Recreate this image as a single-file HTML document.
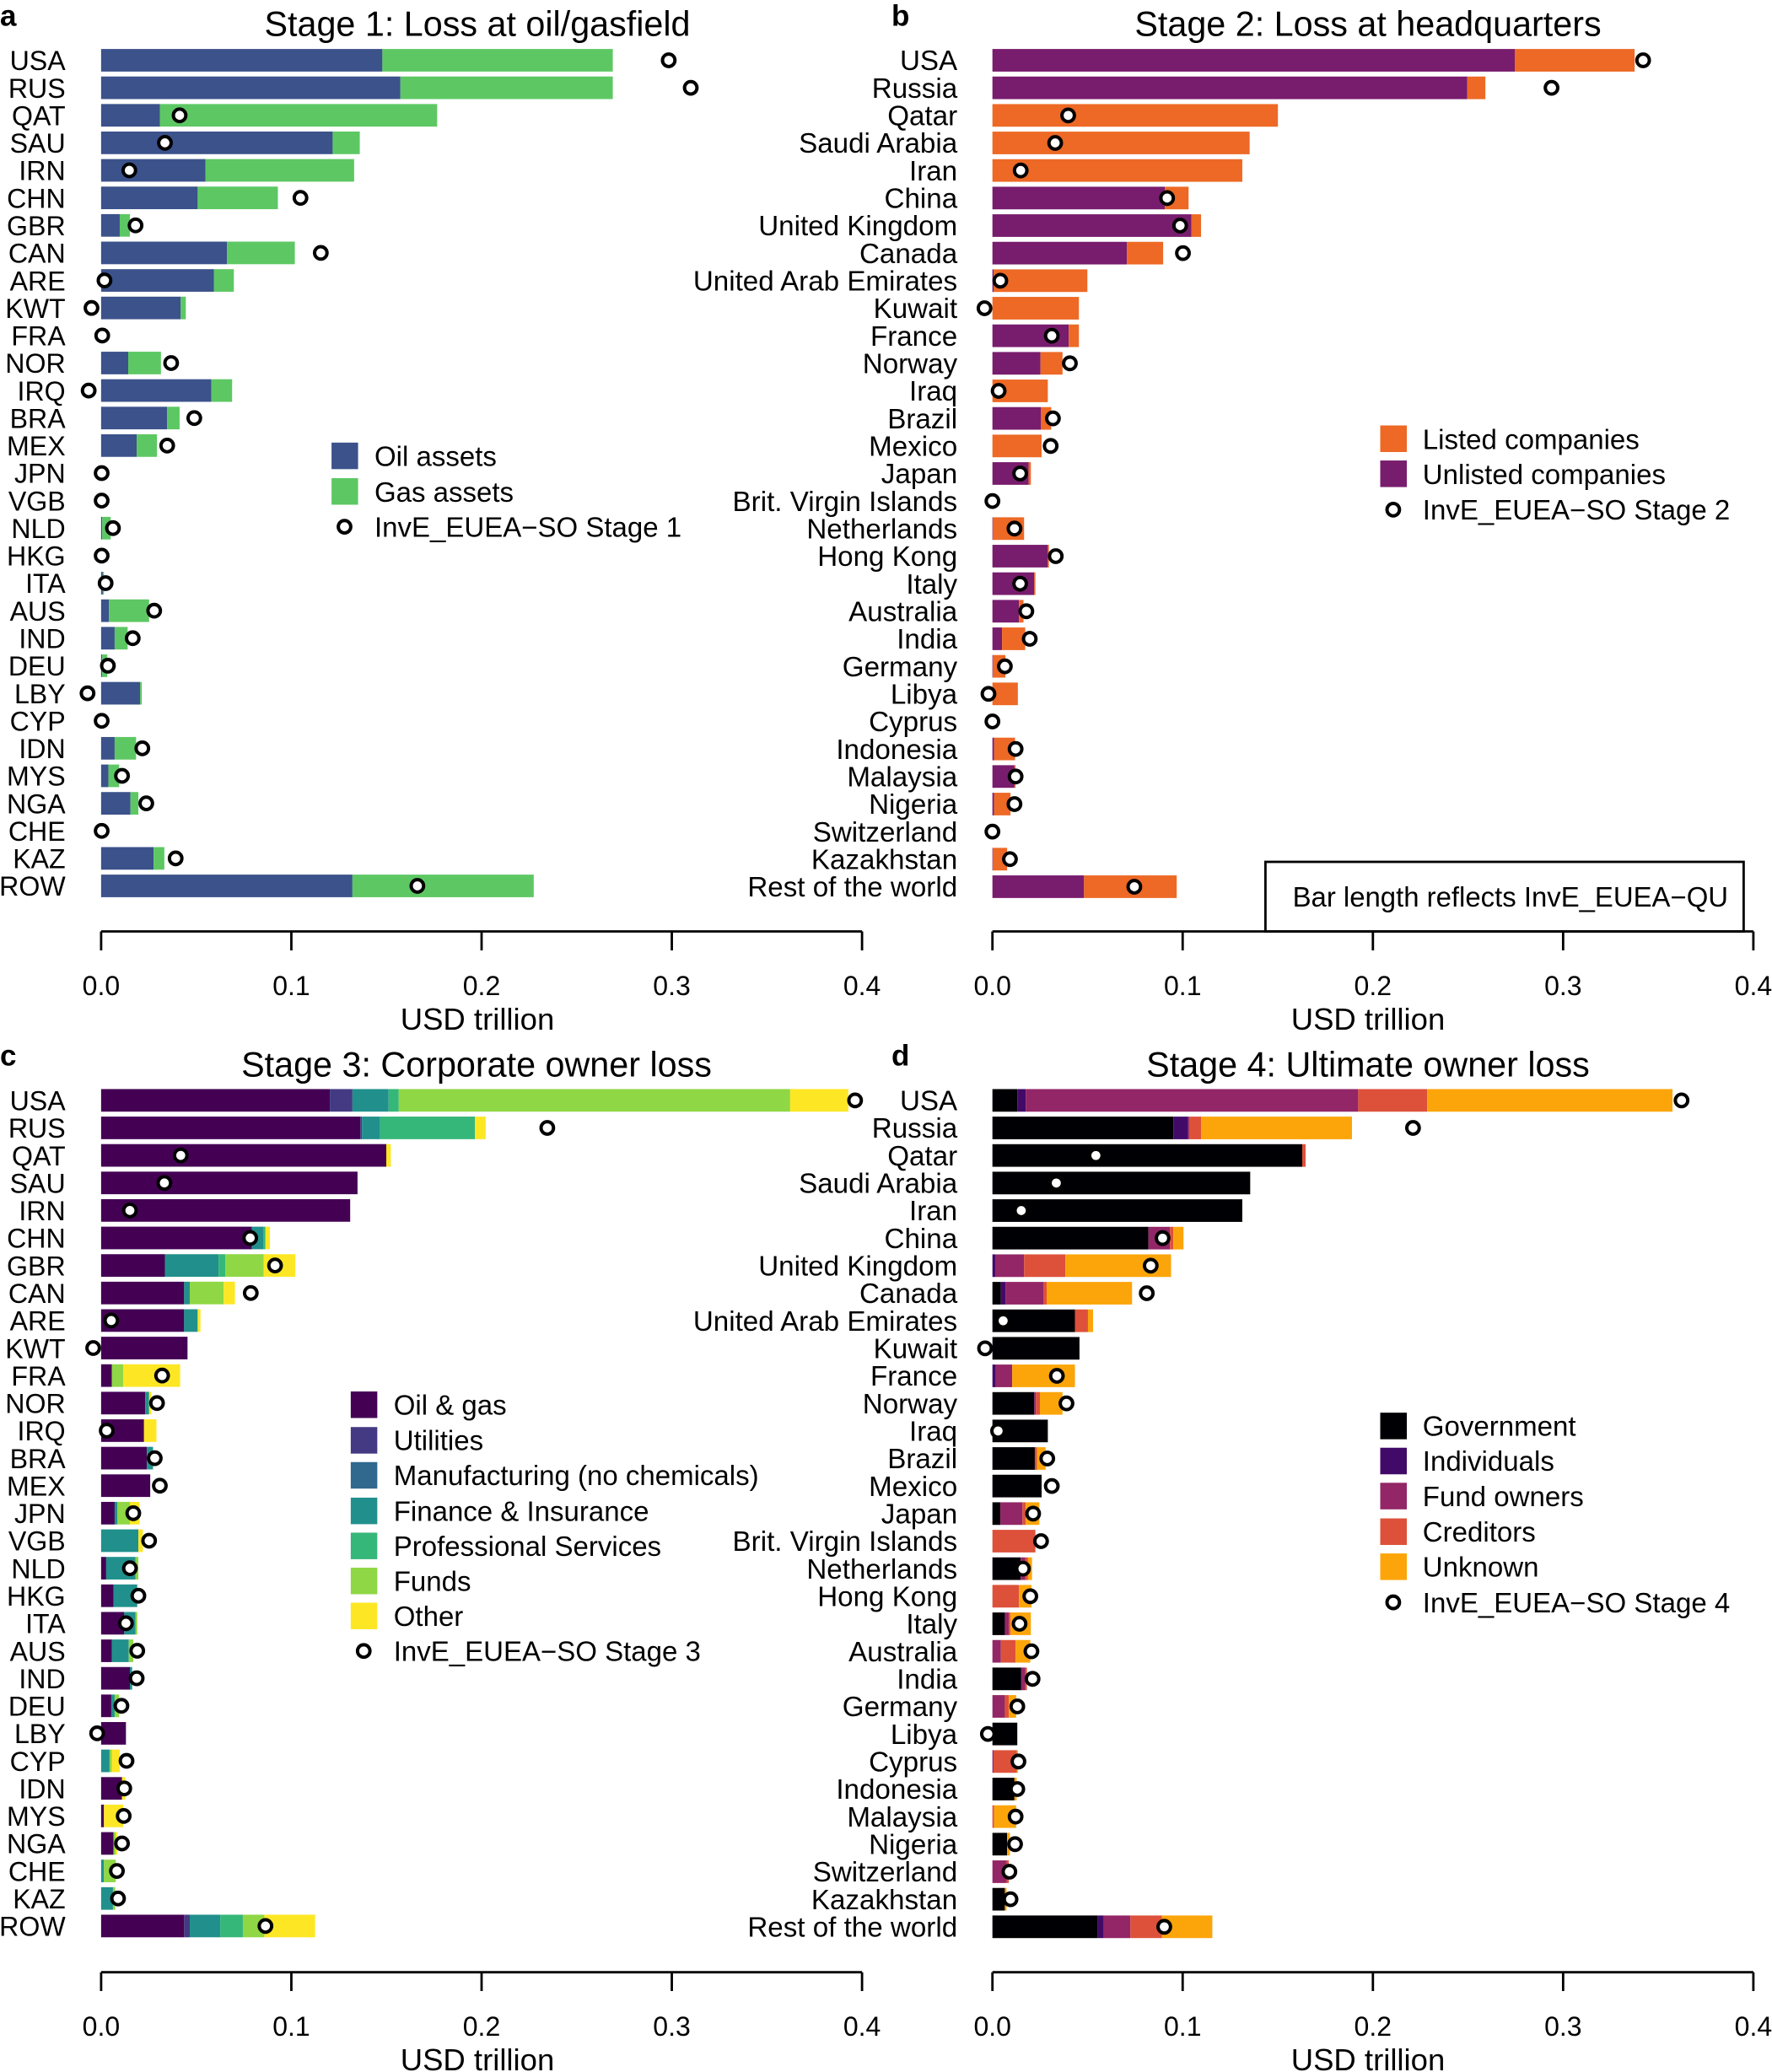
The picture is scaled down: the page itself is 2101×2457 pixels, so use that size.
<!DOCTYPE html>
<html><head><meta charset="utf-8"><style>
html,body{margin:0;padding:0;background:#fff;}
svg{display:block;font-family:"Liberation Sans",Arial,sans-serif;}
.oa{fill:#3B528B}.ga{fill:#5DC863}
.pu{fill:#781C6D}.or{fill:#ED6925}
.c1{fill:#440154}.c2{fill:#443A83}.c3{fill:#31688E}.c4{fill:#21908C}.c5{fill:#35B779}.c6{fill:#8FD744}.c7{fill:#FDE725}
.d1{fill:#000004}.d2{fill:#420A68}.d3{fill:#932667}.d4{fill:#DD513A}.d5{fill:#FCA50A}
.m{fill:#fff;stroke:#000;stroke-width:6}
.ax{stroke:#000;stroke-width:2.8;fill:none}
.lg{font-size:49.3px}
</style></head><body>
<svg width="2101" height="2457" viewBox="0 0 2101 2457" xmlns="http://www.w3.org/2000/svg">
<rect width="2101" height="2457" fill="#fff"/>

<text x="0" y="30.6" font-size="35" font-weight="bold">a</text>
<text x="1057" y="30.6" font-size="35" font-weight="bold">b</text>
<text x="0" y="1263.5" font-size="35" font-weight="bold">c</text>
<text x="1057" y="1263.5" font-size="35" font-weight="bold">d</text>
<text x="566" y="42.5" font-size="41.3" text-anchor="middle">Stage 1: Loss at oil/gasfield</text>
<text x="1622" y="42.5" font-size="41.3" text-anchor="middle">Stage 2: Loss at headquarters</text>
<text x="565" y="1276.5" font-size="41.3" text-anchor="middle">Stage 3: Corporate owner loss</text>
<text x="1622" y="1276.5" font-size="41.3" text-anchor="middle">Stage 4: Ultimate owner loss</text>

<path class="ax" d="M119.9 1104.5H1022.1M119.9 1104.5V1127M345.45 1104.5V1127M571 1104.5V1127M796.55 1104.5V1127M1022.1 1104.5V1127"/>
<g font-size="32" text-anchor="middle">
<text x="119.9" y="1180">0.0</text><text x="345.45" y="1180">0.1</text><text x="571" y="1180">0.2</text><text x="796.55" y="1180">0.3</text><text x="1022.1" y="1180">0.4</text>
</g>
<text x="566" y="1221" font-size="36.5" text-anchor="middle">USD trillion</text>

<path class="ax" d="M1176.7 1104.5H2078.9M1176.7 1104.5V1127M1402.25 1104.5V1127M1627.8 1104.5V1127M1853.35 1104.5V1127M2078.9 1104.5V1127"/>
<g font-size="32" text-anchor="middle">
<text x="1176.7" y="1180">0.0</text><text x="1402.25" y="1180">0.1</text><text x="1627.8" y="1180">0.2</text><text x="1853.35" y="1180">0.3</text><text x="2078.9" y="1180">0.4</text>
</g>
<text x="1622" y="1221" font-size="36.5" text-anchor="middle">USD trillion</text>
<rect x="1500.4" y="1022" width="567" height="82.5" fill="none" stroke="#000" stroke-width="2.8"/>
<text x="1532.6" y="1075" font-size="32.9">Bar length reflects InvE_EUEA−QU</text>

<path class="ax" d="M119.9 2338.7H1022.1M119.9 2338.7V2361M345.45 2338.7V2361M571 2338.7V2361M796.55 2338.7V2361M1022.1 2338.7V2361"/>
<g font-size="32" text-anchor="middle">
<text x="119.9" y="2414">0.0</text><text x="345.45" y="2414">0.1</text><text x="571" y="2414">0.2</text><text x="796.55" y="2414">0.3</text><text x="1022.1" y="2414">0.4</text>
</g>
<text x="566" y="2455" font-size="36.5" text-anchor="middle">USD trillion</text>

<path class="ax" d="M1176.7 2338.7H2078.9M1176.7 2338.7V2361M1402.25 2338.7V2361M1627.8 2338.7V2361M1853.35 2338.7V2361M2078.9 2338.7V2361"/>
<g font-size="32" text-anchor="middle">
<text x="1176.7" y="2414">0.0</text><text x="1402.25" y="2414">0.1</text><text x="1627.8" y="2414">0.2</text><text x="1853.35" y="2414">0.3</text><text x="2078.9" y="2414">0.4</text>
</g>
<text x="1622" y="2455" font-size="36.5" text-anchor="middle">USD trillion</text>

<!-- ================= PANEL A ================= -->
<g transform="translate(0,40) scale(0.66966)" font-size="48">
<g text-anchor="end">
<text x="116" y="64.5">USA</text><text x="116" y="113.2">RUS</text><text x="116" y="162">QAT</text><text x="116" y="210.7">SAU</text><text x="116" y="259.4">IRN</text><text x="116" y="308.2">CHN</text><text x="116" y="356.9">GBR</text><text x="116" y="405.6">CAN</text><text x="116" y="454.4">ARE</text><text x="116" y="503.1">KWT</text><text x="116" y="551.8">FRA</text><text x="116" y="600.6">NOR</text><text x="116" y="649.3">IRQ</text><text x="116" y="698">BRA</text><text x="116" y="746.8">MEX</text><text x="116" y="795.5">JPN</text><text x="116" y="844.2">VGB</text><text x="116" y="893">NLD</text><text x="116" y="941.7">HKG</text><text x="116" y="990.4">ITA</text><text x="116" y="1039.2">AUS</text><text x="116" y="1087.9">IND</text><text x="116" y="1136.6">DEU</text><text x="116" y="1185.4">LBY</text><text x="116" y="1234.1">CYP</text><text x="116" y="1282.8">IDN</text><text x="116" y="1331.6">MYS</text><text x="116" y="1380.3">NGA</text><text x="116" y="1429">CHE</text><text x="116" y="1477.8">KAZ</text><text x="116" y="1526.5">ROW</text>
</g>
<g transform="translate(0,47)"><rect class="oa" x="179" y="-20" width="498" height="40"/><rect class="ga" x="677" y="-20" width="408" height="40"/><circle class="m" cx="1184" cy="0" r="11"/></g>
<g transform="translate(0,95.73)"><rect class="oa" x="179" y="-20" width="530" height="40"/><rect class="ga" x="709" y="-20" width="376" height="40"/><circle class="m" cx="1223" cy="0" r="11"/></g>
<g transform="translate(0,144.47)"><rect class="oa" x="179" y="-20" width="104" height="40"/><rect class="ga" x="283" y="-20" width="491" height="40"/><circle class="m" cx="318" cy="0" r="11"/></g>
<g transform="translate(0,193.2)"><rect class="oa" x="179" y="-20" width="410" height="40"/><rect class="ga" x="589" y="-20" width="48" height="40"/><circle class="m" cx="292" cy="0" r="11"/></g>
<g transform="translate(0,241.93)"><rect class="oa" x="179" y="-20" width="185" height="40"/><rect class="ga" x="364" y="-20" width="263" height="40"/><circle class="m" cx="229" cy="0" r="11"/></g>
<g transform="translate(0,290.67)"><rect class="oa" x="179" y="-20" width="171" height="40"/><rect class="ga" x="350" y="-20" width="142" height="40"/><circle class="m" cx="532" cy="0" r="11"/></g>
<g transform="translate(0,339.4)"><rect class="oa" x="179" y="-20" width="33" height="40"/><rect class="ga" x="212" y="-20" width="18" height="40"/><circle class="m" cx="240" cy="0" r="11"/></g>
<g transform="translate(0,388.13)"><rect class="oa" x="179" y="-20" width="223" height="40"/><rect class="ga" x="402" y="-20" width="120" height="40"/><circle class="m" cx="568" cy="0" r="11"/></g>
<g transform="translate(0,436.87)"><rect class="oa" x="179" y="-20" width="200" height="40"/><rect class="ga" x="379" y="-20" width="35" height="40"/><circle class="m" cx="185" cy="0" r="11"/></g>
<g transform="translate(0,485.6)"><rect class="oa" x="179" y="-20" width="141" height="40"/><rect class="ga" x="320" y="-20" width="9" height="40"/><circle class="m" cx="162" cy="0" r="11"/></g>
<g transform="translate(0,534.33)"><circle class="m" cx="181" cy="0" r="11"/></g>
<g transform="translate(0,583.07)"><rect class="oa" x="179" y="-20" width="48" height="40"/><rect class="ga" x="227" y="-20" width="58" height="40"/><circle class="m" cx="303" cy="0" r="11"/></g>
<g transform="translate(0,631.8)"><rect class="oa" x="179" y="-20" width="195" height="40"/><rect class="ga" x="374" y="-20" width="37" height="40"/><circle class="m" cx="157" cy="0" r="11"/></g>
<g transform="translate(0,680.53)"><rect class="oa" x="179" y="-20" width="117" height="40"/><rect class="ga" x="296" y="-20" width="22" height="40"/><circle class="m" cx="344" cy="0" r="11"/></g>
<g transform="translate(0,729.27)"><rect class="oa" x="179" y="-20" width="63" height="40"/><rect class="ga" x="242" y="-20" width="36" height="40"/><circle class="m" cx="296" cy="0" r="11"/></g>
<g transform="translate(0,778)"><circle class="m" cx="180" cy="0" r="11"/></g>
<g transform="translate(0,826.73)"><circle class="m" cx="180" cy="0" r="11"/></g>
<g transform="translate(0,875.47)"><rect class="oa" x="179" y="-20" width="2" height="40"/><rect class="ga" x="181" y="-20" width="15" height="40"/><circle class="m" cx="200" cy="0" r="11"/></g>
<g transform="translate(0,924.2)"><circle class="m" cx="180" cy="0" r="11"/></g>
<g transform="translate(0,972.93)"><rect class="oa" x="179" y="-20" width="3" height="40"/><rect class="ga" x="182" y="-20" width="2" height="40"/><circle class="m" cx="187" cy="0" r="11"/></g>
<g transform="translate(0,1021.67)"><rect class="oa" x="179" y="-20" width="14" height="40"/><rect class="ga" x="193" y="-20" width="71" height="40"/><circle class="m" cx="273" cy="0" r="11"/></g>
<g transform="translate(0,1070.4)"><rect class="oa" x="179" y="-20" width="24" height="40"/><rect class="ga" x="203" y="-20" width="23" height="40"/><circle class="m" cx="235" cy="0" r="11"/></g>
<g transform="translate(0,1119.13)"><rect class="oa" x="179" y="-20" width="2" height="40"/><rect class="ga" x="181" y="-20" width="9" height="40"/><circle class="m" cx="191" cy="0" r="11"/></g>
<g transform="translate(0,1167.87)"><rect class="oa" x="179" y="-20" width="69" height="40"/><rect class="ga" x="248" y="-20" width="3" height="40"/><circle class="m" cx="155" cy="0" r="11"/></g>
<g transform="translate(0,1216.6)"><circle class="m" cx="180" cy="0" r="11"/></g>
<g transform="translate(0,1265.33)"><rect class="oa" x="179" y="-20" width="24" height="40"/><rect class="ga" x="203" y="-20" width="38" height="40"/><circle class="m" cx="252" cy="0" r="11"/></g>
<g transform="translate(0,1314.07)"><rect class="oa" x="179" y="-20" width="13" height="40"/><rect class="ga" x="192" y="-20" width="19" height="40"/><circle class="m" cx="216" cy="0" r="11"/></g>
<g transform="translate(0,1362.8)"><rect class="oa" x="179" y="-20" width="52" height="40"/><rect class="ga" x="231" y="-20" width="14" height="40"/><circle class="m" cx="259" cy="0" r="11"/></g>
<g transform="translate(0,1411.53)"><circle class="m" cx="180" cy="0" r="11"/></g>
<g transform="translate(0,1460.27)"><rect class="oa" x="179" y="-20" width="93" height="40"/><rect class="ga" x="272" y="-20" width="19" height="40"/><circle class="m" cx="311" cy="0" r="11"/></g>
<g transform="translate(0,1509)"><rect class="oa" x="179" y="-20" width="445" height="40"/><rect class="ga" x="624" y="-20" width="321" height="40"/><circle class="m" cx="739" cy="0" r="11"/></g>
<rect class="oa" x="587" y="724" width="47" height="47"/>
<rect class="ga" x="587" y="787" width="47" height="47"/>
<circle class="m" cx="610" cy="873" r="11"/>
<g class="lg">
<text x="663" y="765.5">Oil assets</text>
<text x="663" y="828.5">Gas assets</text>
<text x="663" y="890.5">InvE_EUEA−SO Stage 1</text>
</g>
</g>

<!-- ================= PANEL B ================= -->
<g transform="translate(1050,40) scale(0.67028)" font-size="49.5">
<g text-anchor="end">
<text x="127" y="64.5">USA</text><text x="127" y="113.2">Russia</text><text x="127" y="162">Qatar</text><text x="127" y="210.7">Saudi Arabia</text><text x="127" y="259.4">Iran</text><text x="127" y="308.2">China</text><text x="127" y="356.9">United Kingdom</text><text x="127" y="405.6">Canada</text><text x="127" y="454.4">United Arab Emirates</text><text x="127" y="503.1">Kuwait</text><text x="127" y="551.8">France</text><text x="127" y="600.6">Norway</text><text x="127" y="649.3">Iraq</text><text x="127" y="698">Brazil</text><text x="127" y="746.8">Mexico</text><text x="127" y="795.5">Japan</text><text x="127" y="844.2">Brit. Virgin Islands</text><text x="127" y="893">Netherlands</text><text x="127" y="941.7">Hong Kong</text><text x="127" y="990.4">Italy</text><text x="127" y="1039.2">Australia</text><text x="127" y="1087.9">India</text><text x="127" y="1136.6">Germany</text><text x="127" y="1185.4">Libya</text><text x="127" y="1234.1">Cyprus</text><text x="127" y="1282.8">Indonesia</text><text x="127" y="1331.6">Malaysia</text><text x="127" y="1380.3">Nigeria</text><text x="127" y="1429">Switzerland</text><text x="127" y="1477.8">Kazakhstan</text><text x="127" y="1526.5">Rest of the world</text>
</g>
<g transform="translate(0,47)"><rect class="pu" x="189" y="-20" width="924" height="40"/><rect class="or" x="1113" y="-20" width="212" height="40"/><circle class="m" cx="1340" cy="0" r="11"/></g>
<g transform="translate(0,95.73)"><rect class="pu" x="189" y="-20" width="840" height="40"/><rect class="or" x="1029" y="-20" width="32" height="40"/><circle class="m" cx="1178" cy="0" r="11"/></g>
<g transform="translate(0,144.47)"><rect class="or" x="189" y="-20" width="505" height="40"/><circle class="m" cx="323" cy="0" r="11"/></g>
<g transform="translate(0,193.2)"><rect class="or" x="189" y="-20" width="455" height="40"/><circle class="m" cx="300" cy="0" r="11"/></g>
<g transform="translate(0,241.93)"><rect class="or" x="189" y="-20" width="442" height="40"/><circle class="m" cx="239" cy="0" r="11"/></g>
<g transform="translate(0,290.67)"><rect class="pu" x="189" y="-20" width="305" height="40"/><rect class="or" x="494" y="-20" width="42" height="40"/><circle class="m" cx="498" cy="0" r="11"/></g>
<g transform="translate(0,339.4)"><rect class="pu" x="189" y="-20" width="352" height="40"/><rect class="or" x="541" y="-20" width="17" height="40"/><circle class="m" cx="521" cy="0" r="11"/></g>
<g transform="translate(0,388.13)"><rect class="pu" x="189" y="-20" width="238" height="40"/><rect class="or" x="427" y="-20" width="64" height="40"/><circle class="m" cx="526" cy="0" r="11"/></g>
<g transform="translate(0,436.87)"><rect class="pu" x="189" y="-20" width="2" height="40"/><rect class="or" x="191" y="-20" width="166" height="40"/><circle class="m" cx="203" cy="0" r="11"/></g>
<g transform="translate(0,485.6)"><rect class="or" x="189" y="-20" width="153" height="40"/><circle class="m" cx="175" cy="0" r="11"/></g>
<g transform="translate(0,534.33)"><rect class="pu" x="189" y="-20" width="135" height="40"/><rect class="or" x="324" y="-20" width="18" height="40"/><circle class="m" cx="294" cy="0" r="11"/></g>
<g transform="translate(0,583.07)"><rect class="pu" x="189" y="-20" width="85" height="40"/><rect class="or" x="274" y="-20" width="39" height="40"/><circle class="m" cx="326" cy="0" r="11"/></g>
<g transform="translate(0,631.8)"><rect class="or" x="189" y="-20" width="98" height="40"/><circle class="m" cx="200" cy="0" r="11"/></g>
<g transform="translate(0,680.53)"><rect class="pu" x="189" y="-20" width="86" height="40"/><rect class="or" x="275" y="-20" width="18" height="40"/><circle class="m" cx="296" cy="0" r="11"/></g>
<g transform="translate(0,729.27)"><rect class="or" x="189" y="-20" width="87" height="40"/><circle class="m" cx="292" cy="0" r="11"/></g>
<g transform="translate(0,778)"><rect class="pu" x="189" y="-20" width="64" height="40"/><rect class="or" x="253" y="-20" width="4" height="40"/><circle class="m" cx="238" cy="0" r="11"/></g>
<g transform="translate(0,826.73)"><circle class="m" cx="189" cy="0" r="11"/></g>
<g transform="translate(0,875.47)"><rect class="pu" x="189" y="-20" width="1" height="40"/><rect class="or" x="190" y="-20" width="55" height="40"/><circle class="m" cx="228" cy="0" r="11"/></g>
<g transform="translate(0,924.2)"><rect class="pu" x="189" y="-20" width="98" height="40"/><rect class="or" x="287" y="-20" width="2" height="40"/><circle class="m" cx="301" cy="0" r="11"/></g>
<g transform="translate(0,972.93)"><rect class="pu" x="189" y="-20" width="74" height="40"/><rect class="or" x="263" y="-20" width="2" height="40"/><circle class="m" cx="238" cy="0" r="11"/></g>
<g transform="translate(0,1021.67)"><rect class="pu" x="189" y="-20" width="47" height="40"/><rect class="or" x="236" y="-20" width="8" height="40"/><circle class="m" cx="249" cy="0" r="11"/></g>
<g transform="translate(0,1070.4)"><rect class="pu" x="189" y="-20" width="17" height="40"/><rect class="or" x="206" y="-20" width="41" height="40"/><circle class="m" cx="255" cy="0" r="11"/></g>
<g transform="translate(0,1119.13)"><rect class="pu" x="189" y="-20" width="1" height="40"/><rect class="or" x="190" y="-20" width="22" height="40"/><circle class="m" cx="211" cy="0" r="11"/></g>
<g transform="translate(0,1167.87)"><rect class="or" x="189" y="-20" width="45" height="40"/><circle class="m" cx="182" cy="0" r="11"/></g>
<g transform="translate(0,1216.6)"><circle class="m" cx="189" cy="0" r="11"/></g>
<g transform="translate(0,1265.33)"><rect class="pu" x="189" y="-20" width="3" height="40"/><rect class="or" x="192" y="-20" width="37" height="40"/><circle class="m" cx="230" cy="0" r="11"/></g>
<g transform="translate(0,1314.07)"><rect class="pu" x="189" y="-20" width="39" height="40"/><rect class="or" x="228" y="-20" width="2" height="40"/><circle class="m" cx="230" cy="0" r="11"/></g>
<g transform="translate(0,1362.8)"><rect class="pu" x="189" y="-20" width="3" height="40"/><rect class="or" x="192" y="-20" width="29" height="40"/><circle class="m" cx="228" cy="0" r="11"/></g>
<g transform="translate(0,1411.53)"><circle class="m" cx="189" cy="0" r="11"/></g>
<g transform="translate(0,1460.27)"><rect class="pu" x="189" y="-20" width="1" height="40"/><rect class="or" x="190" y="-20" width="25" height="40"/><circle class="m" cx="220" cy="0" r="11"/></g>
<g transform="translate(0,1509)"><rect class="pu" x="189" y="-20" width="162" height="40"/><rect class="or" x="351" y="-20" width="164" height="40"/><circle class="m" cx="440" cy="0" r="11"/></g>
<rect class="or" x="875" y="693" width="47" height="47"/>
<rect class="pu" x="875" y="755" width="47" height="47"/>
<circle class="m" cx="898" cy="842" r="11"/>
<g class="lg">
<text x="950" y="734.5">Listed companies</text>
<text x="950" y="796.5">Unlisted companies</text>
<text x="950" y="859.5">InvE_EUEA−SO Stage 2</text>
</g>
</g>

<!-- ================= PANEL C ================= -->
<g transform="translate(0,1270) scale(0.66966)" font-size="48">
<g text-anchor="end">
<text x="116" y="69.5">USA</text><text x="116" y="118.2">RUS</text><text x="116" y="167">QAT</text><text x="116" y="215.7">SAU</text><text x="116" y="264.4">IRN</text><text x="116" y="313.2">CHN</text><text x="116" y="361.9">GBR</text><text x="116" y="410.6">CAN</text><text x="116" y="459.4">ARE</text><text x="116" y="508.1">KWT</text><text x="116" y="556.8">FRA</text><text x="116" y="605.6">NOR</text><text x="116" y="654.3">IRQ</text><text x="116" y="703">BRA</text><text x="116" y="751.8">MEX</text><text x="116" y="800.5">JPN</text><text x="116" y="849.2">VGB</text><text x="116" y="898">NLD</text><text x="116" y="946.7">HKG</text><text x="116" y="995.4">ITA</text><text x="116" y="1044.2">AUS</text><text x="116" y="1092.9">IND</text><text x="116" y="1141.6">DEU</text><text x="116" y="1190.4">LBY</text><text x="116" y="1239.1">CYP</text><text x="116" y="1287.8">IDN</text><text x="116" y="1336.6">MYS</text><text x="116" y="1385.3">NGA</text><text x="116" y="1434">CHE</text><text x="116" y="1482.8">KAZ</text><text x="116" y="1531.5">ROW</text>
</g>
<g transform="translate(0,52)"><rect class="c1" x="179" y="-20" width="405" height="40"/><rect class="c2" x="584" y="-20" width="40" height="40"/><rect class="c4" x="624" y="-20" width="64" height="40"/><rect class="c5" x="688" y="-20" width="18" height="40"/><rect class="c6" x="706" y="-20" width="693" height="40"/><rect class="c7" x="1399" y="-20" width="103" height="40"/><circle class="m" cx="1514" cy="0" r="11"/></g>
<g transform="translate(0,100.73)"><rect class="c1" x="179" y="-20" width="459" height="40"/><rect class="c2" x="638" y="-20" width="3" height="40"/><rect class="c4" x="641" y="-20" width="32" height="40"/><rect class="c5" x="673" y="-20" width="168" height="40"/><rect class="c7" x="841" y="-20" width="19" height="40"/><circle class="m" cx="969" cy="0" r="11"/></g>
<g transform="translate(0,149.47)"><rect class="c1" x="179" y="-20" width="505" height="40"/><rect class="c7" x="684" y="-20" width="8" height="40"/><circle class="m" cx="320" cy="0" r="11"/></g>
<g transform="translate(0,198.2)"><rect class="c1" x="179" y="-20" width="454" height="40"/><circle class="m" cx="291" cy="0" r="11"/></g>
<g transform="translate(0,246.93)"><rect class="c1" x="179" y="-20" width="441" height="40"/><circle class="m" cx="230" cy="0" r="11"/></g>
<g transform="translate(0,295.67)"><rect class="c1" x="179" y="-20" width="267" height="40"/><rect class="c4" x="446" y="-20" width="20" height="40"/><rect class="c5" x="466" y="-20" width="4" height="40"/><rect class="c7" x="470" y="-20" width="8" height="40"/><circle class="m" cx="443" cy="0" r="11"/></g>
<g transform="translate(0,344.4)"><rect class="c1" x="179" y="-20" width="113" height="40"/><rect class="c4" x="292" y="-20" width="95" height="40"/><rect class="c5" x="387" y="-20" width="12" height="40"/><rect class="c6" x="399" y="-20" width="68" height="40"/><rect class="c7" x="467" y="-20" width="56" height="40"/><circle class="m" cx="487" cy="0" r="11"/></g>
<g transform="translate(0,393.13)"><rect class="c1" x="179" y="-20" width="147" height="40"/><rect class="c4" x="326" y="-20" width="10" height="40"/><rect class="c6" x="336" y="-20" width="60" height="40"/><rect class="c7" x="396" y="-20" width="20" height="40"/><circle class="m" cx="444" cy="0" r="11"/></g>
<g transform="translate(0,441.87)"><rect class="c1" x="179" y="-20" width="147" height="40"/><rect class="c4" x="326" y="-20" width="24" height="40"/><rect class="c7" x="350" y="-20" width="5" height="40"/><circle class="m" cx="197" cy="0" r="11"/></g>
<g transform="translate(0,490.6)"><rect class="c1" x="179" y="-20" width="153" height="40"/><circle class="m" cx="165" cy="0" r="11"/></g>
<g transform="translate(0,539.33)"><rect class="c1" x="179" y="-20" width="19" height="40"/><rect class="c6" x="198" y="-20" width="20" height="40"/><rect class="c7" x="218" y="-20" width="101" height="40"/><circle class="m" cx="287" cy="0" r="11"/></g>
<g transform="translate(0,588.07)"><rect class="c1" x="179" y="-20" width="78" height="40"/><rect class="c4" x="257" y="-20" width="7" height="40"/><rect class="c7" x="264" y="-20" width="4" height="40"/><circle class="m" cx="278" cy="0" r="11"/></g>
<g transform="translate(0,636.8)"><rect class="c1" x="179" y="-20" width="76" height="40"/><rect class="c7" x="255" y="-20" width="22" height="40"/><circle class="m" cx="189" cy="0" r="11"/></g>
<g transform="translate(0,685.53)"><rect class="c1" x="179" y="-20" width="81" height="40"/><rect class="c4" x="260" y="-20" width="11" height="40"/><circle class="m" cx="274" cy="0" r="11"/></g>
<g transform="translate(0,734.27)"><rect class="c1" x="179" y="-20" width="87" height="40"/><circle class="m" cx="283" cy="0" r="11"/></g>
<g transform="translate(0,783)"><rect class="c1" x="179" y="-20" width="24" height="40"/><rect class="c4" x="203" y="-20" width="5" height="40"/><rect class="c6" x="208" y="-20" width="22" height="40"/><rect class="c7" x="230" y="-20" width="17" height="40"/><circle class="m" cx="236" cy="0" r="11"/></g>
<g transform="translate(0,831.73)"><rect class="c4" x="179" y="-20" width="66" height="40"/><rect class="c7" x="245" y="-20" width="8" height="40"/><circle class="m" cx="264" cy="0" r="11"/></g>
<g transform="translate(0,880.47)"><rect class="c1" x="179" y="-20" width="9" height="40"/><rect class="c4" x="188" y="-20" width="52" height="40"/><rect class="c6" x="240" y="-20" width="5" height="40"/><circle class="m" cx="230" cy="0" r="11"/></g>
<g transform="translate(0,929.2)"><rect class="c1" x="179" y="-20" width="22" height="40"/><rect class="c4" x="201" y="-20" width="42" height="40"/><circle class="m" cx="245" cy="0" r="11"/></g>
<g transform="translate(0,977.93)"><rect class="c1" x="179" y="-20" width="41" height="40"/><rect class="c4" x="220" y="-20" width="20" height="40"/><rect class="c6" x="240" y="-20" width="3" height="40"/><circle class="m" cx="223" cy="0" r="11"/></g>
<g transform="translate(0,1026.67)"><rect class="c1" x="179" y="-20" width="19" height="40"/><rect class="c4" x="198" y="-20" width="30" height="40"/><rect class="c6" x="228" y="-20" width="8" height="40"/><circle class="m" cx="243" cy="0" r="11"/></g>
<g transform="translate(0,1075.4)"><rect class="c1" x="179" y="-20" width="51" height="40"/><rect class="c4" x="230" y="-20" width="4" height="40"/><circle class="m" cx="242" cy="0" r="11"/></g>
<g transform="translate(0,1124.13)"><rect class="c1" x="179" y="-20" width="18" height="40"/><rect class="c4" x="197" y="-20" width="6" height="40"/><rect class="c6" x="203" y="-20" width="8" height="40"/><circle class="m" cx="215" cy="0" r="11"/></g>
<g transform="translate(0,1172.87)"><rect class="c1" x="179" y="-20" width="44" height="40"/><circle class="m" cx="172" cy="0" r="11"/></g>
<g transform="translate(0,1221.6)"><rect class="c4" x="179" y="-20" width="15" height="40"/><rect class="c6" x="194" y="-20" width="4" height="40"/><rect class="c7" x="198" y="-20" width="14" height="40"/><circle class="m" cx="224" cy="0" r="11"/></g>
<g transform="translate(0,1270.33)"><rect class="c1" x="179" y="-20" width="37" height="40"/><rect class="c7" x="216" y="-20" width="6" height="40"/><circle class="m" cx="220" cy="0" r="11"/></g>
<g transform="translate(0,1319.07)"><rect class="c1" x="179" y="-20" width="5" height="40"/><rect class="c7" x="184" y="-20" width="34" height="40"/><circle class="m" cx="219" cy="0" r="11"/></g>
<g transform="translate(0,1367.8)"><rect class="c1" x="179" y="-20" width="22" height="40"/><rect class="c6" x="201" y="-20" width="4" height="40"/><rect class="c7" x="205" y="-20" width="3" height="40"/><circle class="m" cx="216" cy="0" r="11"/></g>
<g transform="translate(0,1416.53)"><rect class="c4" x="179" y="-20" width="5" height="40"/><rect class="c6" x="184" y="-20" width="21" height="40"/><circle class="m" cx="207" cy="0" r="11"/></g>
<g transform="translate(0,1465.27)"><rect class="c4" x="179" y="-20" width="21" height="40"/><rect class="c6" x="200" y="-20" width="4" height="40"/><circle class="m" cx="209" cy="0" r="11"/></g>
<g transform="translate(0,1514)"><rect class="c1" x="179" y="-20" width="147" height="40"/><rect class="c2" x="326" y="-20" width="10" height="40"/><rect class="c4" x="336" y="-20" width="54" height="40"/><rect class="c5" x="390" y="-20" width="40" height="40"/><rect class="c6" x="430" y="-20" width="38" height="40"/><rect class="c7" x="468" y="-20" width="90" height="40"/><circle class="m" cx="470" cy="0" r="11"/></g>
<rect class="c1" x="621" y="567.5" width="47" height="47"/>
<rect class="c2" x="621" y="630.5" width="47" height="47"/>
<rect class="c3" x="621" y="692.5" width="47" height="47"/>
<rect class="c4" x="621" y="755.5" width="47" height="47"/>
<rect class="c5" x="621" y="817.5" width="47" height="47"/>
<rect class="c6" x="621" y="879.5" width="47" height="47"/>
<rect class="c7" x="621" y="941.5" width="47" height="47"/>
<circle class="m" cx="644" cy="1027" r="11"/>
<g class="lg">
<text x="697" y="608.5">Oil &amp; gas</text>
<text x="697" y="671.5">Utilities</text>
<text x="697" y="733.5">Manufacturing (no chemicals)</text>
<text x="697" y="796.5">Finance &amp; Insurance</text>
<text x="697" y="858.5">Professional Services</text>
<text x="697" y="920.5">Funds</text>
<text x="697" y="982.5">Other</text>
<text x="697" y="1044.5">InvE_EUEA−SO Stage 3</text>
</g>
</g>

<!-- ================= PANEL D ================= -->
<g transform="translate(1050,1270) scale(0.67028)" font-size="49.5">
<g text-anchor="end">
<text x="127" y="69.5">USA</text><text x="127" y="118.2">Russia</text><text x="127" y="167">Qatar</text><text x="127" y="215.7">Saudi Arabia</text><text x="127" y="264.4">Iran</text><text x="127" y="313.2">China</text><text x="127" y="361.9">United Kingdom</text><text x="127" y="410.6">Canada</text><text x="127" y="459.4">United Arab Emirates</text><text x="127" y="508.1">Kuwait</text><text x="127" y="556.8">France</text><text x="127" y="605.6">Norway</text><text x="127" y="654.3">Iraq</text><text x="127" y="703">Brazil</text><text x="127" y="751.8">Mexico</text><text x="127" y="800.5">Japan</text><text x="127" y="849.2">Brit. Virgin Islands</text><text x="127" y="898">Netherlands</text><text x="127" y="946.7">Hong Kong</text><text x="127" y="995.4">Italy</text><text x="127" y="1044.2">Australia</text><text x="127" y="1092.9">India</text><text x="127" y="1141.6">Germany</text><text x="127" y="1190.4">Libya</text><text x="127" y="1239.1">Cyprus</text><text x="127" y="1287.8">Indonesia</text><text x="127" y="1336.6">Malaysia</text><text x="127" y="1385.3">Nigeria</text><text x="127" y="1434">Switzerland</text><text x="127" y="1482.8">Kazakhstan</text><text x="127" y="1531.5">Rest of the world</text>
</g>
<g transform="translate(0,52)"><rect class="d1" x="189" y="-20" width="44" height="40"/><rect class="d2" x="233" y="-20" width="15" height="40"/><rect class="d3" x="248" y="-20" width="588" height="40"/><rect class="d4" x="836" y="-20" width="122" height="40"/><rect class="d5" x="958" y="-20" width="434" height="40"/><circle class="m" cx="1408" cy="0" r="11"/></g>
<g transform="translate(0,100.73)"><rect class="d1" x="189" y="-20" width="320" height="40"/><rect class="d2" x="509" y="-20" width="26" height="40"/><rect class="d3" x="535" y="-20" width="2" height="40"/><rect class="d4" x="537" y="-20" width="21" height="40"/><rect class="d5" x="558" y="-20" width="267" height="40"/><circle class="m" cx="933" cy="0" r="11"/></g>
<g transform="translate(0,149.47)"><rect class="d1" x="189" y="-20" width="548" height="40"/><rect class="d4" x="737" y="-20" width="6" height="40"/><circle class="m" cx="372" cy="0" r="11"/></g>
<g transform="translate(0,198.2)"><rect class="d1" x="189" y="-20" width="456" height="40"/><circle class="m" cx="302" cy="0" r="11"/></g>
<g transform="translate(0,246.93)"><rect class="d1" x="189" y="-20" width="442" height="40"/><circle class="m" cx="240" cy="0" r="11"/></g>
<g transform="translate(0,295.67)"><rect class="d1" x="189" y="-20" width="276" height="40"/><rect class="d3" x="465" y="-20" width="38" height="40"/><rect class="d4" x="503" y="-20" width="6" height="40"/><rect class="d5" x="509" y="-20" width="18" height="40"/><circle class="m" cx="490" cy="0" r="11"/></g>
<g transform="translate(0,344.4)"><rect class="d2" x="189" y="-20" width="5" height="40"/><rect class="d3" x="194" y="-20" width="51" height="40"/><rect class="d4" x="245" y="-20" width="73" height="40"/><rect class="d5" x="318" y="-20" width="187" height="40"/><circle class="m" cx="469" cy="0" r="11"/></g>
<g transform="translate(0,393.13)"><rect class="d1" x="189" y="-20" width="15" height="40"/><rect class="d2" x="204" y="-20" width="8" height="40"/><rect class="d3" x="212" y="-20" width="67" height="40"/><rect class="d4" x="279" y="-20" width="6" height="40"/><rect class="d5" x="285" y="-20" width="151" height="40"/><circle class="m" cx="462" cy="0" r="11"/></g>
<g transform="translate(0,441.87)"><rect class="d1" x="189" y="-20" width="146" height="40"/><rect class="d4" x="335" y="-20" width="23" height="40"/><rect class="d5" x="358" y="-20" width="9" height="40"/><circle class="m" cx="208" cy="0" r="11"/></g>
<g transform="translate(0,490.6)"><rect class="d1" x="189" y="-20" width="154" height="40"/><circle class="m" cx="176" cy="0" r="11"/></g>
<g transform="translate(0,539.33)"><rect class="d2" x="189" y="-20" width="6" height="40"/><rect class="d3" x="195" y="-20" width="29" height="40"/><rect class="d5" x="224" y="-20" width="111" height="40"/><circle class="m" cx="303" cy="0" r="11"/></g>
<g transform="translate(0,588.07)"><rect class="d1" x="189" y="-20" width="74" height="40"/><rect class="d3" x="263" y="-20" width="3" height="40"/><rect class="d4" x="266" y="-20" width="7" height="40"/><rect class="d5" x="273" y="-20" width="40" height="40"/><circle class="m" cx="320" cy="0" r="11"/></g>
<g transform="translate(0,636.8)"><rect class="d1" x="189" y="-20" width="98" height="40"/><circle class="m" cx="199" cy="0" r="11"/></g>
<g transform="translate(0,685.53)"><rect class="d1" x="189" y="-20" width="75" height="40"/><rect class="d4" x="264" y="-20" width="4" height="40"/><rect class="d5" x="268" y="-20" width="15" height="40"/><circle class="m" cx="286" cy="0" r="11"/></g>
<g transform="translate(0,734.27)"><rect class="d1" x="189" y="-20" width="87" height="40"/><circle class="m" cx="294" cy="0" r="11"/></g>
<g transform="translate(0,783)"><rect class="d1" x="189" y="-20" width="14" height="40"/><rect class="d3" x="203" y="-20" width="39" height="40"/><rect class="d4" x="242" y="-20" width="6" height="40"/><rect class="d5" x="248" y="-20" width="24" height="40"/><circle class="m" cx="261" cy="0" r="11"/></g>
<g transform="translate(0,831.73)"><rect class="d4" x="189" y="-20" width="76" height="40"/><circle class="m" cx="275" cy="0" r="11"/></g>
<g transform="translate(0,880.47)"><rect class="d1" x="189" y="-20" width="50" height="40"/><rect class="d3" x="239" y="-20" width="8" height="40"/><rect class="d4" x="247" y="-20" width="5" height="40"/><rect class="d5" x="252" y="-20" width="7" height="40"/><circle class="m" cx="243" cy="0" r="11"/></g>
<g transform="translate(0,929.2)"><rect class="d4" x="189" y="-20" width="47" height="40"/><rect class="d5" x="236" y="-20" width="22" height="40"/><circle class="m" cx="256" cy="0" r="11"/></g>
<g transform="translate(0,977.93)"><rect class="d1" x="189" y="-20" width="22" height="40"/><rect class="d3" x="211" y="-20" width="7" height="40"/><rect class="d4" x="218" y="-20" width="3" height="40"/><rect class="d5" x="221" y="-20" width="36" height="40"/><circle class="m" cx="237" cy="0" r="11"/></g>
<g transform="translate(0,1026.67)"><rect class="d3" x="189" y="-20" width="15" height="40"/><rect class="d4" x="204" y="-20" width="26" height="40"/><rect class="d5" x="230" y="-20" width="26" height="40"/><circle class="m" cx="258" cy="0" r="11"/></g>
<g transform="translate(0,1075.4)"><rect class="d1" x="189" y="-20" width="51" height="40"/><rect class="d3" x="240" y="-20" width="7" height="40"/><rect class="d4" x="247" y="-20" width="3" height="40"/><circle class="m" cx="260" cy="0" r="11"/></g>
<g transform="translate(0,1124.13)"><rect class="d3" x="189" y="-20" width="22" height="40"/><rect class="d4" x="211" y="-20" width="7" height="40"/><rect class="d5" x="218" y="-20" width="13" height="40"/><circle class="m" cx="233" cy="0" r="11"/></g>
<g transform="translate(0,1172.87)"><rect class="d1" x="189" y="-20" width="44" height="40"/><circle class="m" cx="181" cy="0" r="11"/></g>
<g transform="translate(0,1221.6)"><rect class="d3" x="189" y="-20" width="2" height="40"/><rect class="d4" x="191" y="-20" width="41" height="40"/><rect class="d5" x="232" y="-20" width="2" height="40"/><circle class="m" cx="235" cy="0" r="11"/></g>
<g transform="translate(0,1270.33)"><rect class="d1" x="189" y="-20" width="39" height="40"/><rect class="d5" x="228" y="-20" width="4" height="40"/><circle class="m" cx="233" cy="0" r="11"/></g>
<g transform="translate(0,1319.07)"><rect class="d4" x="189" y="-20" width="3" height="40"/><rect class="d5" x="192" y="-20" width="39" height="40"/><circle class="m" cx="230" cy="0" r="11"/></g>
<g transform="translate(0,1367.8)"><rect class="d1" x="189" y="-20" width="26" height="40"/><rect class="d5" x="215" y="-20" width="5" height="40"/><circle class="m" cx="229" cy="0" r="11"/></g>
<g transform="translate(0,1416.53)"><rect class="d3" x="189" y="-20" width="25" height="40"/><rect class="d4" x="214" y="-20" width="4" height="40"/><circle class="m" cx="219" cy="0" r="11"/></g>
<g transform="translate(0,1465.27)"><rect class="d1" x="189" y="-20" width="22" height="40"/><rect class="d5" x="211" y="-20" width="3" height="40"/><circle class="m" cx="221" cy="0" r="11"/></g>
<g transform="translate(0,1514)"><rect class="d1" x="189" y="-20" width="186" height="40"/><rect class="d2" x="375" y="-20" width="11" height="40"/><rect class="d3" x="386" y="-20" width="47" height="40"/><rect class="d4" x="433" y="-20" width="56" height="40"/><rect class="d5" x="489" y="-20" width="89" height="40"/><circle class="m" cx="493" cy="0" r="11"/></g>
<rect class="d1" x="875" y="604.5" width="47" height="47"/>
<rect class="d2" x="875" y="666.5" width="47" height="47"/>
<rect class="d3" x="875" y="728.5" width="47" height="47"/>
<rect class="d4" x="875" y="791.5" width="47" height="47"/>
<rect class="d5" x="875" y="853.5" width="47" height="47"/>
<circle class="m" cx="898" cy="940" r="11"/>
<g class="lg">
<text x="950" y="645.5">Government</text>
<text x="950" y="707.5">Individuals</text>
<text x="950" y="769.5">Fund owners</text>
<text x="950" y="832.5">Creditors</text>
<text x="950" y="894.5">Unknown</text>
<text x="950" y="957.5">InvE_EUEA−SO Stage 4</text>
</g>
</g>
</svg>
</body></html>
